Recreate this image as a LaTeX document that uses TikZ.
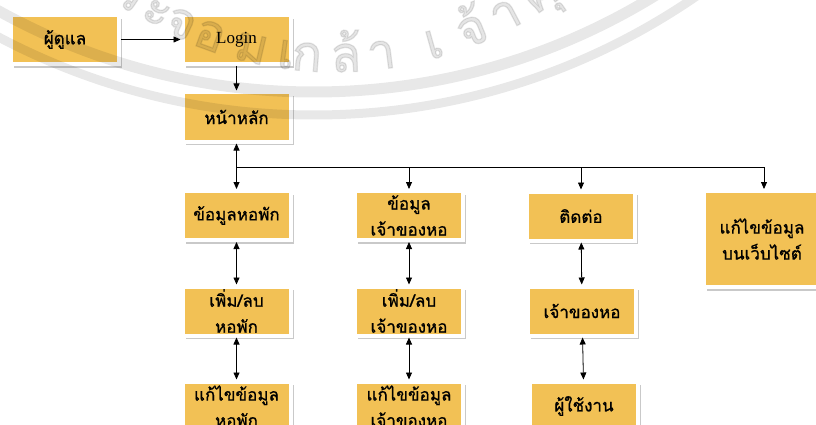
\documentclass[tikz,border=0pt]{standalone}
\usepackage{fontspec}
\setmainfont{Liberation Serif}
\newfontfamily\thaifont[Script=Thai,FakeBold=1]{Loma}
\newfontfamily\wmfont[Script=Thai,FakeBold=2.5]{Loma}
\usetikzlibrary{arrows.meta,shadows}
\definecolor{boxyellow}{HTML}{F2C155}
\tikzset{
  box/.style={fill=boxyellow, draw=white, line width=4pt, minimum width=108pt, minimum height=49pt,
    inner sep=0pt, align=center, font=\thaifont\fontsize{17}{26}\selectfont,
    drop shadow={shadow xshift=3.2pt, shadow yshift=-3.6pt, opacity=0.3, fill=black!70}},
  conn/.style={line width=0.8pt, -{Triangle[length=7pt,width=6pt]}},
  dconn/.style={line width=0.8pt, {Triangle[length=7pt,width=6pt]}-{Triangle[length=7pt,width=6pt]}},
  wm/.style={draw=black, draw opacity=0.09, line width=11pt},
  wmtext/.style={text=black, text opacity=0.1, font=\wmfont\fontsize{50}{50}\selectfont, inner sep=0pt, anchor=base}
}
\begin{document}
\begin{tikzpicture}[x=1pt,y=-1pt]
\useasboundingbox (0,0) rectangle (816,425);
\clip (0,0) rectangle (816,425);
% nodes
\node[box] (admin) at (65,39.5) {ผู้ดูแล};
\node[box, font=\fontsize{17}{20}\selectfont] (login) at (236.5,39.5) {Login};
\node[box] (home) at (236.5,117) {หน้าหลัก};
\node[box] (dorm) at (236.5,215.5) {ข้อมูลหอพัก};
\node[box] (owner) at (409,215.5) {ข้อมูล\\เจ้าของหอ};
\node[box] (contact) at (581,216) {ติดต่อ};
\node[box, minimum width=116pt, minimum height=96pt] (web) at (762,239) {แก้ไขข้อมูล\\บนเว็บไซต์};
\node[box] (adddorm) at (236.5,311) {เพิ่ม/ลบ\\หอพัก};
\node[box] (addowner) at (409,311) {เพิ่ม/ลบ\\เจ้าของหอ};
\node[box] (cowner) at (582,311) {เจ้าของหอ};
\node[box] (editdorm) at (236.5,406) {แก้ไขข้อมูล\\หอพัก};
\node[box] (editowner) at (409,406) {แก้ไขข้อมูล\\เจ้าของหอ};
\node[box] (user) at (584,406) {ผู้ใช้งาน};
% connectors
\coordinate (bus) at (236.5,167);
\coordinate (busend) at (764,167);
\draw[conn] (admin) -- (login);
\draw[conn] (login) -- (home);
\draw[conn] (bus) -- (home);
\draw[line width=0.8pt] (bus) -- (busend);
\draw[conn] (bus) -- (dorm);
\draw[conn] (owner.north |- bus) -- (owner);
\draw[conn] (contact.north |- bus) -- (contact);
\draw[conn] (busend) -- (busend |- web.north);
\draw[dconn] (dorm) -- (adddorm);
\draw[dconn] (adddorm) -- (editdorm);
\draw[dconn] (owner) -- (addowner);
\draw[dconn] (addowner) -- (editowner);
\draw[dconn] (contact) -- (cowner);
\draw[dconn] (cowner) -- (user);
% watermark
\coordinate (wmc) at (313.8,-560);
\draw[wm] (wmc) circle (652);
\draw[wm, line width=9pt] (wmc) circle (675);
\coordinate (wmt) at (335,-308);
\foreach \ang/\txt in {-33.9/ร, -29.1/ะ, -24.9/จ, -20.0/อ, -13.2/ม, -7.7/เ, -4.4/ก, 1.7/ล้, 7.3/า, 15.7/เ, 22.1/จ้, 27.8/า, 34.1/คุ}{
  \node[wmtext, rotate=\ang] at ([shift={(wmt)}] 90-\ang:380) {\txt};
}
\end{tikzpicture}
\end{document}
